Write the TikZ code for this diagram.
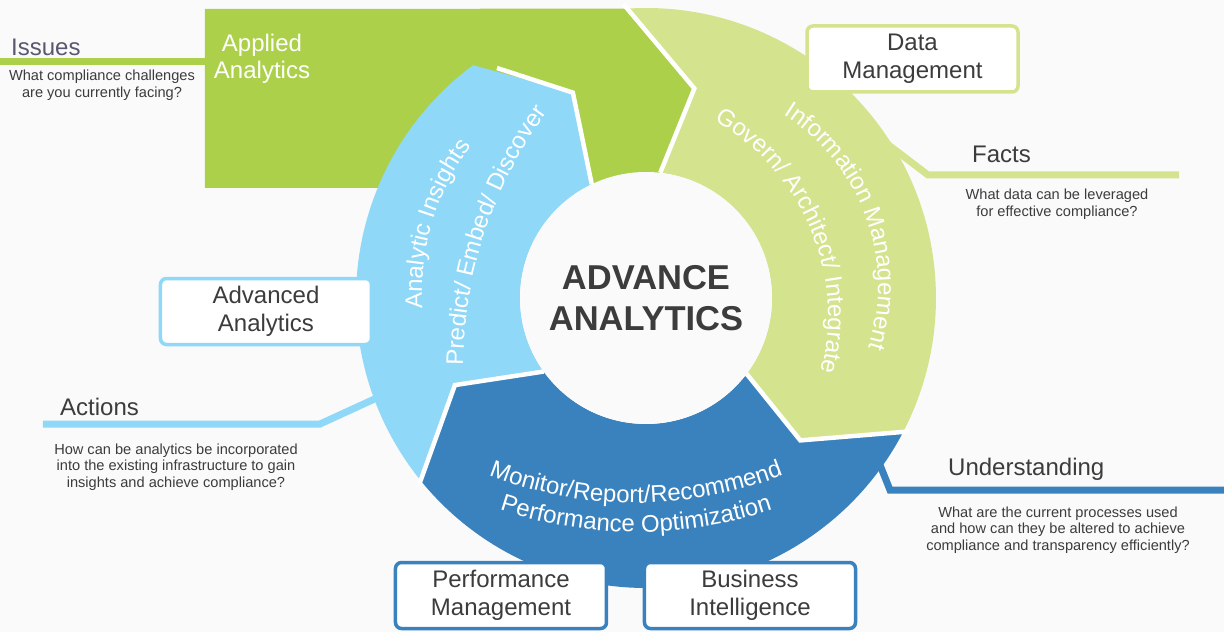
\documentclass[tikz,border=0pt]{standalone}
\usepackage{fontspec}
\setmainfont{Liberation Sans}
\usepackage{tikz}
\usetikzlibrary{calc,decorations.text}

\definecolor{bgcol}{RGB}{250,250,250}
\definecolor{appgreen}{RGB}{172,208,74}
\definecolor{infogreen}{RGB}{212,227,142}
\definecolor{insightblue}{RGB}{143,216,248}
\definecolor{perfblue}{RGB}{58,130,190}
\definecolor{textgray}{RGB}{60,60,60}
\definecolor{issuegray}{RGB}{88,88,112}

\tikzset{
  infobox/.style={draw=#1, fill=white, line width=3.5, rounded corners=6,
    minimum width=211, minimum height=66, align=center, text=textgray,
    font=\fontsize{24}{28}\selectfont},
  heading/.style={font=\fontsize{24}{28}\selectfont, text=textgray, anchor=base west, inner sep=0},
  question/.style={font=\fontsize{14.6}{16.5}\selectfont, text=textgray, align=center},
  callout/.style={draw=#1, line width=7, line join=miter},
  gap/.style={white, line width=4.5, line join=miter},
  ringtext/.style={decorate, decoration={text along path, text align=center,
    text color=white, text={|\fontsize{24}{24}\selectfont|#1}}}
}

\begin{document}
\begin{tikzpicture}[x=1pt,y=1pt]
\fill[bgcol] (-646,-334) rectangle (578,298);
\useasboundingbox (-646,-334) rectangle (578,298);

% Callout lines
\coordinate (issuesRoot) at (-441,236);
\coordinate (issuesEnd) at (-646,236);
\coordinate (factsRoot) at (236,158);
\coordinate (factsBend) at (282,123);
\coordinate (factsEnd) at (533,123);
\coordinate (actionsRoot) at (-265,-98);
\coordinate (actionsBend) at (-326,-126);
\coordinate (actionsEnd) at (-603,-126);
\coordinate (underRoot) at (232,-162);
\coordinate (underBend) at (244,-192);
\coordinate (underEnd) at (578,-192);
\draw[callout=appgreen] (issuesRoot) -- (issuesEnd);
\draw[callout=infogreen] (factsRoot) -- (factsBend) -- (factsEnd);
\draw[callout=insightblue] (actionsRoot) -- (actionsBend) -- (actionsEnd);
\draw[callout=perfblue] (underRoot) -- (underBend) -- (underEnd);

% Applied analytics block
\fill[appgreen] (-441,289) -- (93.7:290) -- (77:215) -- (83.5:126) -- (115.5:126)
  -- (-268,110) -- (-441,110) -- cycle;

% Ring segments
\fill[infogreen] (93.7:290) arc[start angle=93.7, end angle=-27.5, radius=290]
  -- (-42.7:210) -- (-37:126) arc[start angle=-37, end angle=83.5, radius=126]
  -- (77:215) -- cycle;
\fill[perfblue] (-27.5:290) arc[start angle=-27.5, end angle=-141, radius=290]
  -- (-155.5:210) -- (-144.3:126) arc[start angle=-144.3, end angle=-37, radius=126]
  -- (-42.7:210) -- cycle;
\fill[insightblue] (219:290) arc[start angle=219, end angle=126.6, radius=290]
  -- (109.6:218) -- (115.5:126) arc[start angle=115.5, end angle=215.7, radius=126]
  -- (204.5:210) -- cycle;

% Gaps between segments
\draw[gap, shorten <=-6] (93.7:290) -- (77:215) -- (83.5:126);
\draw[gap, shorten <=-6] (-27.5:290) -- (-42.7:210) -- (-37:126);
\draw[gap, shorten <=-6] (-141:290) -- (-155.5:210) -- (-144.3:126);
\draw[gap] (-149,230) -- (109.6:218) -- (115.5:126);

% Hub
\node[circle, fill=bgcol, minimum size=252, inner sep=0, align=center, text=textgray,
  font=\fontsize{34.5}{41.5}\selectfont\bfseries] (core) at (0,0) {ADVANCE\\ANALYTICS};

% Texts along the ring
\path[ringtext={Analytic Insights}] (18,5) ++(203.2:242) arc[start angle=203.2, end angle=123.2, radius=242];
\path[ringtext={Predict/ Embed/ Discover}] (254,-72) ++(186.6:437) arc[start angle=186.6, end angle=136.6, radius=437];
\path[ringtext={Information Management}] (30,12) ++(70:202) arc[start angle=70, end angle=-30, radius=202];
\path[ringtext={Govern/ Architect/ Integrate}] (-43,-18) ++(73:225) arc[start angle=73, end angle=-27, radius=225];
\path[ringtext={Monitor/Report/Recommend}] (-10,198) ++(-115:403) arc[start angle=-115, end angle=-65, radius=403];
\path[ringtext={Performance Optimization}] (-10,198) ++(-115:432) arc[start angle=-115, end angle=-65, radius=432];

\node[font=\fontsize{24}{27}\selectfont, text=white, align=center] (applied) at (-384,239.5) {Applied\\Analytics};

% Labels and questions
\node[heading, text=issuegray] (issues) at (-635,242) {Issues};
\node[question] (issuesQ) at (-544,213) {What compliance challenges\\are you currently facing?};
\node[heading] (facts) at (326,135) {Facts};
\node[question] (factsQ) at (411,94) {What data can be leveraged\\for effective compliance?};
\node[heading] (actions) at (-586,-117) {Actions};
\node[question] (actionsQ) at (-470,-169) {How can be analytics be incorporated\\into the existing infrastructure to gain\\insights and achieve compliance?};
\node[heading] (under) at (302,-177) {Understanding};
\node[question] (underQ) at (412,-232) {What are the current processes used\\and how can they be altered to achieve\\compliance and transparency efficiently?};

% Boxes
\node[infobox=infogreen] (datamgmt) at (266.5,239) {Data\\Management};
\node[infobox=insightblue] (advanced) at (-380,-13.5) {Advanced\\Analytics};
\node[infobox=perfblue] (perfmgmt) at (-145,-297.5) {Performance\\Management};
\node[infobox=perfblue] (busint) at (104,-297.5) {Business\\Intelligence};
\end{tikzpicture}
\end{document}
